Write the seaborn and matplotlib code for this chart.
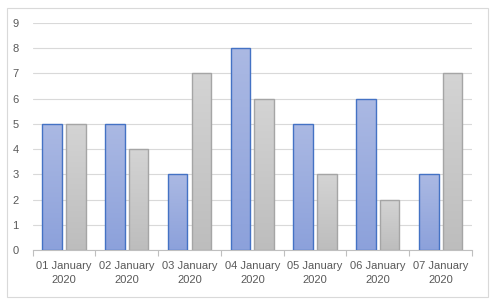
import matplotlib
matplotlib.use("Agg")
import matplotlib.pyplot as plt
import seaborn as sns
import numpy as np
import pandas as pd
from matplotlib.patches import Rectangle
from matplotlib.colors import LinearSegmentedColormap

dates = ["01 January\n2020", "02 January\n2020", "03 January\n2020", "04 January\n2020",
         "05 January\n2020", "06 January\n2020", "07 January\n2020"]
series_a = [5, 5, 3, 8, 5, 6, 3]
series_b = [5, 4, 7, 6, 3, 2, 7]
yticks = list(range(0, 10))

df = pd.DataFrame({
    "date": dates * 2,
    "series": ["A"] * len(dates) + ["B"] * len(dates),
    "value": series_a + series_b,
})

sns.set_theme(style="white")
plt.rcParams['font.family'] = ['Liberation Sans', 'DejaVu Sans']

fig = plt.figure(figsize=(4.96, 3.04), dpi=100)
ax = fig.add_axes([0.0657, 0.1776, 0.886, 0.7467])

sns.barplot(data=df, x="date", y="value", hue="series", ax=ax,
            palette=["#8fa5dc", "#c4c4c4"], width=0.757, gap=0.18,
            legend=False, saturation=1)

edge = {"A": "#4472c4", "B": "#a5a5a5"}
grads = {"A": ("#abb9e3", "#8ca1db"), "B": ("#d4d4d4", "#bdbdbd")}
n = len(dates)
for i, p in enumerate(list(ax.patches)):
    key = "A" if i < n else "B"
    x0, y0 = p.get_x(), p.get_y()
    w, h = p.get_width(), p.get_height()
    p.set_facecolor("none")
    p.set_edgecolor(edge[key])
    p.set_linewidth(1.0)
    p.set_zorder(3)
    cmap = LinearSegmentedColormap.from_list("g", [grads[key][1], grads[key][0]])
    grad = np.linspace(0, 1, 256).reshape(-1, 1)
    im = ax.imshow(grad, extent=[x0, x0 + w, y0, y0 + h], origin="lower",
                   cmap=cmap, aspect="auto", zorder=2)
    clip = Rectangle((x0, y0), w, h, transform=ax.transData)
    im.set_clip_path(clip)

ax.set_xlim(-0.5, n - 0.5)
ax.set_ylim(0, 9)
ax.set_yticks(yticks)
ax.yaxis.grid(True, color="#d9d9d9", linewidth=0.8)
ax.set_axisbelow(True)
for s in ["top", "right", "left"]:
    ax.spines[s].set_visible(False)
ax.spines["bottom"].set_color("#bfbfbf")
ax.spines["bottom"].set_linewidth(0.8)
ax.set_xlabel("")
ax.set_ylabel("")

ax.set_xticks(np.arange(-0.5, n, 1), minor=True)
ax.tick_params(axis="x", which="minor", length=4, color="#bfbfbf", width=0.8, bottom=True)
ax.tick_params(axis="x", which="major", length=0, pad=8, labelsize=8, labelcolor="#595959")
ax.tick_params(axis="y", length=0, pad=10, labelsize=8, labelcolor="#595959")
for lbl in ax.get_xticklabels():
    lbl.set_linespacing(1.45)

fig.patches.append(Rectangle((7 / 496, 1 - 297 / 304), 481 / 496, 289 / 304,
                             transform=fig.transFigure, fill=False,
                             edgecolor="#d9d9d9", linewidth=0.8))

fig.savefig("out.png", dpi=100)
